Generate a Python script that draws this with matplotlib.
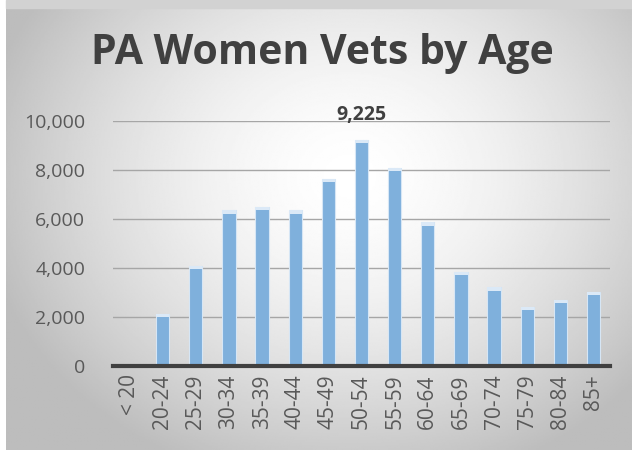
import numpy as np
import matplotlib.pyplot as plt
from matplotlib.ticker import FuncFormatter

ages = ["< 20", "20-24", "25-29", "30-34", "35-39", "40-44", "45-49", "50-54",
        "55-59", "60-64", "65-69", "70-74", "75-79", "80-84", "85+"]
vets = [0, 2110, 4080, 6350, 6490, 6350, 7650, 9225,
        8070, 5860, 3840, 3210, 2400, 2690, 3020]
label_idx = 7  # only the peak gets a data label

plt.rcParams['font.family'] = ['Open Sans', 'DejaVu Sans']

fig = plt.figure(figsize=(6.32, 4.5), dpi=100, facecolor='white')

# background with the radial grey-to-white fill
bg = fig.add_axes([6 / 632, 0, 1 - 6 / 632, 1 - 8 / 450])
yy, xx = np.mgrid[0:1:300j, 0:1:420j]
r = np.sqrt(((xx - 0.55) / 0.6) ** 2 + ((yy - 0.62) / 0.72) ** 2)
shade = np.clip(1 - 0.26 * r ** 1.6, 0.74, 1)
bg.imshow(shade, cmap='gray', vmin=0, vmax=1, aspect='auto',
          extent=(0, 1, 0, 1), origin='lower')
bg.axis('off')
fig.patches.append(plt.Rectangle((6 / 632, 1 - 8 / 450), 1, 8 / 450,
                                 transform=fig.transFigure, color='#d2d2d2'))

ax = fig.add_axes([113 / 632, 1 - 366 / 450, 497 / 632, 245 / 450])
ax.patch.set_alpha(0)

x = np.arange(len(ages))
vals = np.array(vets)
cap = 130
ax.bar(x, vals, width=0.4, color='#7fb0dc', edgecolor='#d6e6f5',
       linewidth=0.8, zorder=3)
ax.bar(x[vals > 0], cap, bottom=vals[vals > 0] - cap, width=0.4,
       color='#dbe9f7', linewidth=0, zorder=4)

ax.set_ylim(0, 10000)
ax.set_xlim(-0.5, len(ages) - 0.5)
ax.set_yticks(range(0, 10001, 2000))
ax.yaxis.set_major_formatter(FuncFormatter(lambda v, p: f"{int(v):,}"))
ax.grid(axis='y', color='#a6a6a6', linewidth=1, zorder=0)
ax.set_xticks(x)
ax.set_xticklabels(ages, rotation=90)
ax.tick_params(length=0, labelsize=14, labelcolor='#595959')
ax.tick_params(axis='x', labelsize=15, pad=6)
ax.tick_params(axis='y', pad=20)
for s in ['top', 'right', 'left']:
    ax.spines[s].set_visible(False)
ax.spines['bottom'].set_color('#404040')
ax.spines['bottom'].set_linewidth(3)
ax.spines['bottom'].set_zorder(5)

ax.text(x[label_idx], vals[label_idx] + 600, f"{vets[label_idx]:,}",
        ha='center', va='bottom', fontsize=14, fontweight='bold',
        color='#404040')

fig.text(0.51, 0.88, "PA Women Vets by Age", ha='center', va='center',
         fontsize=29.5, fontweight='bold', color='#404040')

fig.savefig("out.png", dpi=100)
